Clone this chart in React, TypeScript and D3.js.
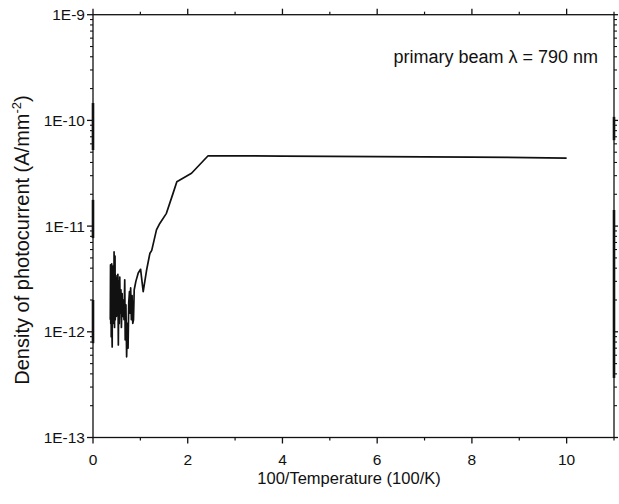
import React from "react";
import * as d3 from "d3";

const W = 619;
const H = 504;

// 100/T values and photocurrent density (A/mm^-2)
const xValues: number[] = [
  0.365, 0.37, 0.375, 0.38, 0.385, 0.39, 0.395, 0.4, 0.405, 0.41, 0.415, 0.42, 0.425, 0.43, 0.435, 0.44, 0.445,
  0.45, 0.455, 0.46, 0.465, 0.47, 0.475, 0.485, 0.495, 0.505, 0.515, 0.525, 0.535, 0.545,
  0.555, 0.565, 0.575, 0.59, 0.6, 0.615, 0.625, 0.64, 0.655, 0.67,
  0.68, 0.695, 0.71, 0.725, 0.74, 0.755, 0.77, 0.78, 0.795, 0.81,
  0.825, 0.84, 0.855, 0.87, 0.905, 0.955, 1.005, 1.06, 1.13, 1.2,
  1.24, 1.34, 1.41, 1.55, 1.69, 1.77, 2.08, 2.43, 4.0, 6.0, 8.0, 10.0,
];
const yValues: number[] = [
  1.3e-12, 4.3e-12, 1.2e-12, 4.0e-12, 9.0e-13, 1.6e-12, 4.4e-12, 1.0e-12, 7.2e-13, 3.8e-12, 3.5e-12, 1.5e-12, 1.3e-12, 4.2e-12, 3.0e-12, 1.2e-12, 5.7e-12,
  1.4e-12, 1.1e-12, 4.6e-12, 5.2e-12, 1.3e-12, 2.0e-12, 3.4e-12, 1.4e-12, 3.2e-12, 1.6e-12, 3.5e-12, 7.5e-13, 3.0e-12,
  1.2e-12, 3.3e-12, 1.5e-12, 2.5e-12, 1.1e-12, 2.3e-12, 1.4e-12, 2.0e-12, 1.3e-12, 3.1e-12,
  8.4e-13, 1.8e-12, 5.8e-13, 1.2e-12, 7.0e-13, 1.9e-12, 2.4e-12, 1.5e-12, 2.6e-12, 1.3e-12,
  2.2e-12, 1.2e-12, 1.3e-12, 2.5e-12, 3.0e-12, 3.6e-12, 3.9e-12, 2.4e-12, 3.8e-12, 5.5e-12,
  5.9e-12, 9.2e-12, 1.06e-11, 1.32e-11, 2.04e-11, 2.63e-11, 3.16e-11, 4.63e-11, 4.6e-11, 4.55e-11, 4.5e-11, 4.4e-11,
];

const xTicks: number[] = [0, 2, 4, 6, 8, 10];
const xMinorTicks: number[] = [1, 3, 5, 7, 9, 11];
const yTicks: number[] = [1e-13, 1e-12, 1e-11, 1e-10, 1e-9];
const yTickLabels: string[] = ["1E-13", "1E-12", "1E-11", "1E-10", "1E-9"];

// heavy marks overlapping the frame (from the scanned figure)
const leftFrameMarks: [number, number][] = [
  [1.46e-10, 5.25e-11],
  [1.77e-11, 7.7e-12],
  [2.0e-12, 7.8e-13],
];
const rightFrameMarks: [number, number][] = [
  [1.08e-10, 6.5e-11],
  [1.42e-11, 3.66e-13],
];

const annotation = "primary beam \u03bb = 790 nm";
const xTitle = "100/Temperature (100/K)";

export default function App() {
  const left = 93;
  const right = 614;
  const top = 14.7;
  const bottom = 437.5;

  const x = d3.scaleLinear().domain([0, 11]).range([left, right]);
  const y = d3.scaleLog().domain([1e-13, 1e-9]).range([bottom, top]);

  const points: [number, number][] = xValues.map((v, i) => [v, yValues[i]]);
  const line = d3
    .line<[number, number]>()
    .x((d) => x(d[0]))
    .y((d) => y(d[1]));

  const minorY: number[] = [];
  for (let e = -13; e < -9; e++) {
    for (let m = 2; m <= 9; m++) minorY.push(m * Math.pow(10, e));
  }

  const font = "'Liberation Sans', Arial, Helvetica, sans-serif";
  const stroke = "#111";

  return (
    <svg
      width={W}
      height={H}
      viewBox={`0 0 ${W} ${H}`}
      style={{ position: "absolute", left: 0, top: 0, background: "#fff" }}
      fontFamily={font}
    >
      <rect x={0} y={0} width={W} height={H} fill="#fff" />
      {/* frame */}
      <rect
        x={left}
        y={top}
        width={right - left}
        height={bottom - top}
        fill="none"
        stroke={stroke}
        strokeWidth={1.3}
      />
      {/* heavy frame marks */}
      {leftFrameMarks.map((m, i) => (
        <line key={"lm" + i} x1={left} x2={left} y1={y(m[0])} y2={y(m[1])} stroke={stroke} strokeWidth={2.6} />
      ))}
      {rightFrameMarks.map((m, i) => (
        <line key={"rm" + i} x1={right} x2={right} y1={y(m[0])} y2={y(m[1])} stroke={stroke} strokeWidth={2.6} />
      ))}
      {/* x ticks bottom/top */}
      {xTicks.map((t) => (
        <g key={"xt" + t}>
          <line x1={x(t)} x2={x(t)} y1={bottom} y2={bottom + 6} stroke={stroke} strokeWidth={1.3} />
          <line x1={x(t)} x2={x(t)} y1={top} y2={top - 6} stroke={stroke} strokeWidth={1.3} />
          <text x={x(t)} y={bottom + 27} textAnchor="middle" fontSize={15.5} fill="#111">
            {t}
          </text>
        </g>
      ))}
      {xMinorTicks.map((t) => (
        <g key={"xm" + t}>
          <line x1={x(t)} x2={x(t)} y1={bottom} y2={bottom + 3} stroke={stroke} strokeWidth={1.2} />
          <line x1={x(t)} x2={x(t)} y1={top} y2={top - 3} stroke={stroke} strokeWidth={1.2} />
        </g>
      ))}
      {/* y ticks left/right */}
      {yTicks.map((t, i) => (
        <g key={"yt" + i}>
          <line x1={left} x2={left - 6} y1={y(t)} y2={y(t)} stroke={stroke} strokeWidth={1.3} />
          <line x1={right} x2={right + 4} y1={y(t)} y2={y(t)} stroke={stroke} strokeWidth={1.3} />
          <text x={left - 8} y={y(t)} dy="0.35em" textAnchor="end" fontSize={15.5} fill="#111">
            {yTickLabels[i]}
          </text>
        </g>
      ))}
      {minorY.map((t, i) => (
        <g key={"ym" + i}>
          <line x1={left} x2={left - 3} y1={y(t)} y2={y(t)} stroke={stroke} strokeWidth={1.1} />
          <line x1={right} x2={right + 3} y1={y(t)} y2={y(t)} stroke={stroke} strokeWidth={1.1} />
        </g>
      ))}
      {/* data */}
      <path d={line(points) || ""} fill="none" stroke={stroke} strokeWidth={1.7} strokeLinejoin="round" />
      {/* annotation */}
      <text x={598} y={63} textAnchor="end" fontSize={18} fill="#111">
        {annotation}
      </text>
      {/* axis titles */}
      <text x={349} y={484} textAnchor="middle" fontSize={16.5} fill="#111">
        {xTitle}
      </text>
      <text
        transform={`translate(29,240) rotate(-90)`}
        textAnchor="middle"
        fontSize={20}
        fill="#111"
      >
        Density of photocurrent (A/mm
        <tspan fontSize={13} dy={-8}>-2</tspan>
        <tspan dy={8}>)</tspan>
      </text>
    </svg>
  );
}
